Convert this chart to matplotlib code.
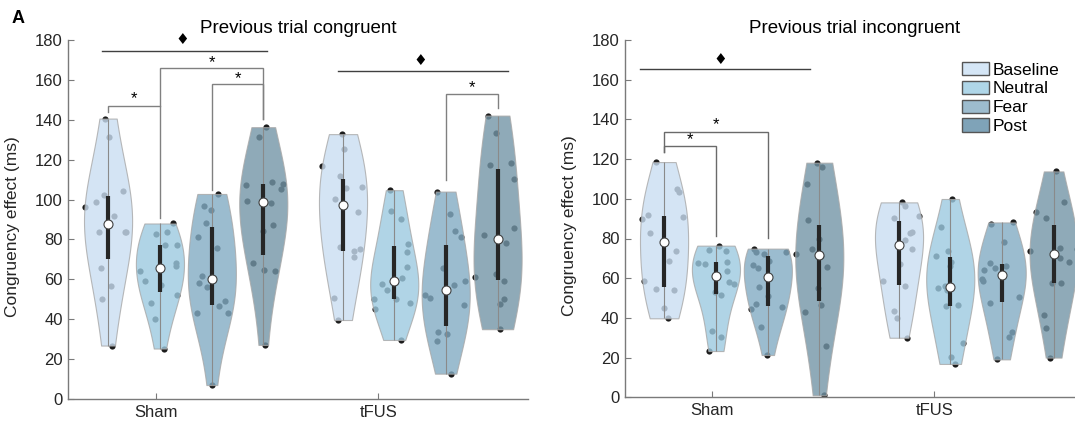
"""Violin plots of congruency effect by condition, split by previous-trial type."""

import matplotlib

matplotlib.use("Agg")
import matplotlib.pyplot as plt
from matplotlib.patches import Patch
import numpy as np

plt.rcParams.update({
    "font.family": ["Liberation Sans", "DejaVu Sans"],
    "font.size": 12,
    "axes.linewidth": 1.0,
})

conditions = ["Baseline", "Neutral", "Fear", "Post"]
groups = ["Sham", "tFUS"]

# congruency effect (ms), one list per condition: Baseline, Neutral, Fear, Post
cong_sham = [
    [140.6, 131.3, 104.3, 102.5, 98.7, 96.1, 91.8, 83.9, 83.6, 83.6, 65.5, 56.5, 50.2, 26.8],
    [88.0, 83.6, 82.6, 77.3, 77.3, 68.1, 66.7, 64.2, 59.2, 57.2, 52.2, 48.0, 40.0, 25.3],
    [102.8, 96.8, 94.6, 88.1, 81.3, 75.6, 61.7, 58.2, 56.4, 49.2, 46.7, 43.0, 43.0, 7.0],
    [136.3, 131.3, 108.7, 107.7, 107.2, 105.2, 99.2, 98.2, 87.3, 84.3, 68.2, 64.7, 64.2, 27.1],
]
cong_tfus = [
    [132.8, 125.2, 116.9, 111.9, 106.2, 105.8, 100.3, 93.8, 76.2, 75.1, 74.1, 71.2, 50.7, 39.6],
    [104.7, 94.1, 90.3, 77.6, 73.6, 66.0, 60.5, 57.5, 54.5, 50.2, 50.0, 48.0, 45.2, 29.6],
    [104.0, 92.6, 84.1, 81.3, 65.5, 59.0, 57.2, 52.3, 50.5, 47.2, 33.4, 32.8, 29.1, 12.7],
    [142.1, 133.3, 118.4, 117.2, 110.2, 85.8, 82.1, 78.1, 62.9, 61.2, 59.2, 50.2, 47.5, 35.0],
]
incong_sham = [
    [118.5, 104.8, 103.6, 91.7, 91.0, 89.7, 82.9, 73.5, 68.5, 58.8, 54.6, 54.2, 45.2, 39.8],
    [76.4, 74.4, 73.5, 68.3, 67.8, 67.3, 63.8, 58.3, 56.9, 53.0, 51.7, 33.6, 30.2, 23.3],
    [74.9, 73.2, 73.0, 72.2, 68.5, 66.7, 65.3, 55.7, 51.0, 46.8, 45.5, 44.3, 35.3, 21.3],
    [118.2, 116.2, 107.5, 89.2, 80.0, 74.9, 72.0, 71.0, 65.5, 55.0, 46.5, 43.1, 26.0, 1.0],
]
incong_tfus = [
    [98.2, 96.4, 91.3, 90.5, 83.4, 82.8, 79.4, 74.5, 67.0, 58.4, 55.9, 43.5, 40.1, 30.0],
    [99.9, 86.0, 73.7, 71.4, 68.3, 66.3, 56.2, 55.0, 54.1, 46.3, 45.8, 27.2, 20.5, 16.8],
    [88.1, 87.5, 78.1, 67.5, 66.3, 65.3, 64.1, 59.6, 58.4, 50.4, 47.3, 32.9, 30.6, 19.1],
    [113.8, 98.6, 93.5, 90.5, 75.4, 74.5, 73.9, 70.0, 68.3, 57.6, 57.4, 41.6, 35.1, 20.0],
]

# horizontal jitter of each dot (x units), same order as the values
cong_sham_jit = [
    [-0.015, 0.003, 0.067, -0.019, -0.054, -0.105, 0.025, 0.079, 0.075, -0.040, -0.033, 0.012, -0.025, 0.018],
    [0.057, 0.033, -0.019, 0.024, 0.076, 0.072, 0.073, -0.088, -0.069, 0.006, 0.076, -0.039, -0.024, 0.016],
    [0.027, -0.034, -0.003, -0.025, -0.063, 0.021, -0.045, -0.058, -0.021, 0.057, 0.030, 0.072, -0.067, 0.0],
    [0.012, -0.018, 0.037, 0.088, -0.076, 0.079, -0.075, 0.036, 0.045, 0.0, -0.048, 0.001, 0.052, 0.007],
]
cong_tfus_jit = [
    [-0.006, 0.004, -0.094, -0.015, 0.084, 0.015, -0.037, 0.067, -0.015, 0.075, 0.051, 0.048, -0.040, -0.024],
    [-0.021, -0.013, 0.031, 0.060, 0.058, 0.057, 0.036, -0.057, -0.034, -0.093, 0.010, 0.072, -0.085, 0.031],
    [-0.037, 0.019, 0.040, 0.067, -0.010, 0.088, 0.039, -0.093, -0.072, 0.082, -0.036, 0.006, -0.039, 0.022],
    [-0.045, -0.009, 0.061, -0.033, 0.076, 0.076, -0.060, 0.040, -0.009, -0.100, 0.027, 0.030, 0.010, 0.009],
]
incong_sham_jit = [
    [-0.036, 0.060, 0.067, -0.072, 0.087, -0.100, -0.064, 0.054, 0.021, -0.091, -0.036, 0.043, 0.0, 0.016],
    [0.013, -0.030, 0.043, 0.049, -0.081, -0.051, 0.051, 0.058, 0.079, -0.003, 0.024, -0.018, 0.024, -0.030],
    [-0.064, 0.081, -0.055, -0.016, 0.004, -0.066, -0.045, -0.039, 0.0, -0.052, 0.063, -0.076, -0.031, -0.003],
    [-0.012, 0.012, -0.057, -0.049, 0.0, -0.031, -0.105, 0.006, 0.036, -0.004, 0.006, -0.063, 0.030, 0.021],
]
incong_tfus_jit = [
    [0.013, 0.027, 0.091, -0.022, 0.057, 0.049, 0.028, 0.057, 0.004, -0.072, 0.025, -0.022, -0.007, 0.036],
    [0.007, -0.043, -0.010, -0.063, 0.004, -0.003, -0.022, -0.054, -0.013, 0.037, -0.019, 0.057, 0.004, 0.022],
    [0.051, -0.046, 0.010, -0.054, 0.021, -0.028, -0.079, -0.090, -0.084, 0.079, -0.052, 0.045, 0.031, -0.022],
    [0.010, 0.045, -0.078, -0.036, 0.031, 0.105, -0.105, 0.030, 0.067, -0.009, 0.033, -0.045, -0.036, -0.018],
]

violin_colors = ["#cadef2", "#9ccae0", "#82abc3", "#7395a6"]
legend_colors = ["#d5e6f6", "#afd6e8", "#9dbcce", "#7fa3b8"]

# violin centres relative to the group tick
OFFSETS = {"Sham": [-0.214, 0.019, 0.252, 0.483], "tFUS": [-0.159, 0.071, 0.302, 0.535]}
WIDTH = 0.216
BW_SCALE = 1.35  # smoother than scipy's default Scott factor
W, H = 1075, 424


def pos(group, ci):
    return groups.index(group) + 1 + OFFSETS[group][ci]


def draw_violins(ax, per_group, per_group_jit):
    for group, vals, jits in zip(groups, per_group, per_group_jit):
        for ci in range(4):
            x = pos(group, ci)
            v = np.asarray(vals[ci])
            j = np.asarray(jits[ci])
            ax.scatter(x + j, v, s=20, color="#1c1c1c", lw=0, zorder=1)
            bw = BW_SCALE * len(v) ** (-1 / 5)
            parts = ax.violinplot([v], positions=[x], widths=WIDTH, showextrema=False,
                                  bw_method=bw, points=200)
            body = parts["bodies"][0]
            body.set_facecolor(violin_colors[ci])
            body.set_edgecolor("#a8a8a8")
            body.set_linewidth(0.8)
            body.set_alpha(0.8)
            body.set_zorder(2)
            ax.vlines(x, v.min(), v.max(), color="#8a8a8a", lw=0.8, zorder=3)
            q1, med, q3 = np.percentile(v, [25, 50, 75])
            ax.vlines(x, q1, q3, color="#262626", lw=3.0, zorder=4)
            ax.scatter([x], [med], s=42, facecolor="white", edgecolor="#404040", lw=0.8, zorder=5)


def bracket(ax, x1, x2, top, bot1, bot2, star_y, color="#808080"):
    ax.plot([x1, x1, x2, x2], [bot1, top, top, bot2], color=color, lw=1.0, zorder=6,
            solid_joinstyle="miter")
    ax.text((x1 + x2) / 2, star_y, "*", ha="center", va="center", fontsize=12, zorder=7)


def diamond_line(ax, x1, x2, y, xd, yd):
    ax.plot([x1, x2], [y, y], color="#404040", lw=1.0, zorder=6)
    ax.text(xd, yd, "\u2666", ha="center", va="center", fontsize=11,
            family=["DejaVu Sans"], zorder=7)


def style_axes(ax, xlim, title):
    ax.set_xlim(*xlim)
    ax.set_ylim(0, 180)
    ax.set_yticks(np.arange(0, 181, 20))
    ax.set_xticks([1, 2])
    ax.set_xticklabels(groups)
    for s in ["top", "right"]:
        ax.spines[s].set_visible(False)
    for s in ["left", "bottom"]:
        ax.spines[s].set_color("#7a7a7a")
    ax.tick_params(direction="in", length=4, color="#7a7a7a", labelcolor="#262626",
                   labelsize=12, pad=4)
    ax.set_ylabel("Congruency effect (ms)", fontsize=12.5, color="#262626")
    ax.yaxis.set_label_coords(-0.104, 0.48)
    ax.set_title(title, fontsize=13.5, pad=4.8)


def main():
    fig = plt.figure(figsize=(W / 100, H / 100), dpi=100)
    ax1 = fig.add_axes([68.3 / W, 25 / H, 460 / W, 359 / H])
    ax2 = fig.add_axes([625 / W, 26.7 / H, 460 / W, 357.3 / H])

    draw_violins(ax1, [cong_sham, cong_tfus], [cong_sham_jit, cong_tfus_jit])
    draw_violins(ax2, [incong_sham, incong_tfus], [incong_sham_jit, incong_tfus_jit])

    style_axes(ax1, (0.6075, 2.673), "Previous trial congruent")
    style_axes(ax2, (0.6107, 2.676), "Previous trial incongruent")

    # significance marks, previous trial congruent
    diamond_line(ax1, 0.76, 1.50, 174.5, 1.12, 180.5)
    bracket(ax1, pos("Sham", 0), pos("Sham", 1), 147.0, 144.0, 147.0, 150.5)
    bracket(ax1, pos("Sham", 1), pos("Sham", 3), 165.8, 91.0, 140.3, 168.8)
    bracket(ax1, pos("Sham", 2), pos("Sham", 3), 157.8, 104.8, 140.3, 160.8)
    diamond_line(ax1, 1.82, 2.58, 164.6, 2.19, 169.5)
    bracket(ax1, pos("tFUS", 2), pos("tFUS", 3), 152.8, 109.8, 145.8, 156.0)

    # previous trial incongruent
    diamond_line(ax2, 0.678, 1.44, 165.2, 1.037, 170.3)
    bracket(ax2, pos("Sham", 0), pos("Sham", 1), 126.8, 123.7, 81.4, 130.0, color="#6a6a6a")
    bracket(ax2, pos("Sham", 0), pos("Sham", 2), 133.5, 123.7, 80.4, 137.2, color="#6a6a6a")

    handles = [Patch(facecolor=c, edgecolor="#555555", lw=1.0) for c in legend_colors]
    fig.legend(handles, conditions, loc="upper left",
               bbox_to_anchor=(961.7 / W, 1 - 62 / H), frameon=False,
               fontsize=12.5, handlelength=1.6, handleheight=0.8,
               handletextpad=0.2, labelspacing=0.18, borderpad=0, borderaxespad=0)

    fig.text(18 / W, 1 - 18.5 / H, "A", fontsize=13, fontweight="bold",
             ha="center", va="center")

    fig.savefig("out.png", dpi=100)
    plt.close(fig)


if __name__ == "__main__":
    main()
